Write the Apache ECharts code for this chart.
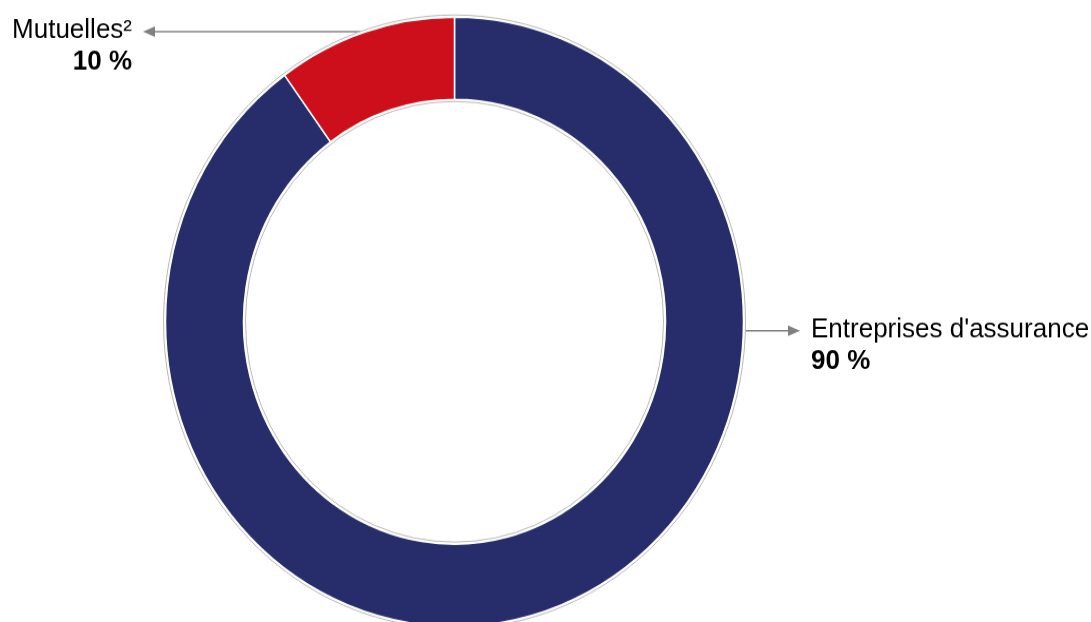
<!DOCTYPE html>
<html>
<head>
<meta charset="utf-8">
<script src="https://cdn.jsdelivr.net/npm/echarts@6/dist/echarts.min.js"></script>
<style>
  html, body { margin: 0; padding: 0; background: #fff; width: 1091px; height: 622px; overflow: hidden; }
  /* the original picture is slightly stretched vertically */
  #chart { width: 1091px; height: 590px; transform: scaleY(1.0542); transform-origin: 0 0; }
</style>
</head>
<body>
<div id="chart"></div>
<script>
var categories = ["Entreprises d'assurance", 'Mutuelles²'];
var shares = [90, 10];
var shareLabels = ['90 %', '10 %'];
var colors = ['#272d6b', '#cc0f1a'];

var cx = 454.5, cy = 305.2;   // centre du donut
var rIn = 211, rOut = 289;

// position des étiquettes (coin haut, alignement)
var labelPos = [
  { x: 811, y: 298, align: 'left', arrowY: 313.7, side: 1, tipX: 800 },
  { x: 132, y: 13.5, align: 'right', arrowY: 30, side: -1, tipX: 143 }
];

var pieData = [];
for (var i = 0; i < categories.length; i++) {
  pieData.push({ name: categories[i], value: shares[i], itemStyle: { color: colors[i] } });
}

// flèches : ligne horizontale du bord du donut vers l'étiquette
var arrows = [];
for (var j = 0; j < labelPos.length; j++) {
  var p = labelPos[j];
  var dy = p.arrowY - cy;
  var startX = cx + p.side * Math.sqrt(rOut * rOut - dy * dy);
  var baseX = p.tipX - p.side * 12;
  arrows.push({
    type: 'line', silent: true,
    shape: { x1: startX, y1: p.arrowY, x2: baseX, y2: p.arrowY },
    style: { stroke: '#808080', lineWidth: 1.5 }
  });
  arrows.push({
    type: 'polygon', silent: true,
    shape: { points: [[p.tipX, p.arrowY], [baseX, p.arrowY - 5], [baseX, p.arrowY + 5]] },
    style: { fill: '#808080' }
  });
}

var myChart = echarts.init(document.getElementById('chart'));

var option = {
  animation: false,
  graphic: arrows,
  series: [
    { // contour gris fin
      type: 'pie',
      silent: true,
      center: [cx, cy],
      radius: [rIn - 2, rOut + 2],
      label: { show: false },
      labelLine: { show: false },
      itemStyle: { color: '#fff', borderColor: '#b8b8b8', borderWidth: 1 },
      data: [{ value: 1, name: '' }],
      z: 1
    },
    {
      type: 'pie',
      center: [cx, cy],
      radius: [rIn, rOut],
      startAngle: 90,
      clockwise: true,
      itemStyle: { borderColor: '#fff', borderWidth: 1.5 },
      label: {
        show: true,
        formatter: function (params) {
          return '{n|' + params.name + '}\n{v|' + shareLabels[params.dataIndex] + '}';
        },
        rich: {
          n: { fontFamily: 'Liberation Sans, Arial, sans-serif', fontSize: 26, color: '#000', lineHeight: 30 },
          v: { fontFamily: 'Liberation Sans, Arial, sans-serif', fontSize: 26, fontWeight: 'bold', color: '#000', lineHeight: 30 }
        }
      },
      labelLine: { show: false },
      labelLayout: function (params) {
        var p = labelPos[params.dataIndex];
        return { x: p.x, y: p.y, align: p.align, verticalAlign: 'top' };
      },
      data: pieData,
      z: 2
    }
  ]
};

myChart.setOption(option);
</script>
</body>
</html>
